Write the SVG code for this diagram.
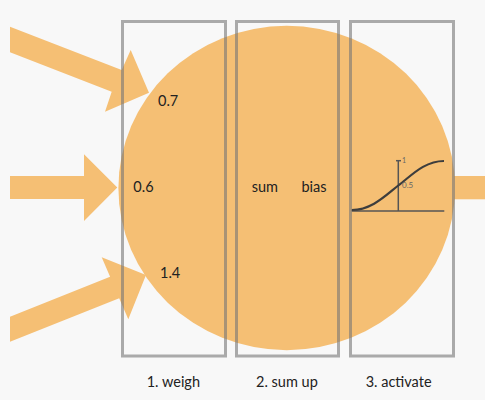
<svg xmlns="http://www.w3.org/2000/svg" width="485" height="400" viewBox="0 0 485 400">
<style>
.bg{fill:#f8f8f8}
.org{fill:#f5bf74}
.box{fill:none;stroke:#777;stroke-opacity:0.6;stroke-width:3}
.t{font-family:Lato,"Open Sans","Liberation Sans",sans-serif;font-size:14.5px;fill:#222}
.axis{stroke:#555;stroke-width:1.5;fill:none}
.curve{stroke:#3d3d3d;stroke-width:2.2;fill:none}
.small{font-family:Lato,"Open Sans","Liberation Sans",sans-serif;fill:#666}
</style>
<rect class="bg" x="0" y="0" width="485" height="400"/>
<g id="connectors">
<polygon class="org" points="10,26.7 121.7,70 130.7,50 149,92.7 105,111.7 111.7,91.7 10,52.3"/>
<polygon class="org" points="10,176 84,176 84,154.3 117.3,187.5 84,221 84,199 10,199"/>
<polygon class="org" points="10,316.7 110.1,276.8 101.7,257.3 146,275 128.3,319.3 119.2,298.2 10,341.7"/>
<rect class="org" x="440" y="176" width="50" height="23.3"/>
</g>
<g id="neuron">
<ellipse class="org" cx="286.7" cy="188" rx="168.3" ry="162.2"/>
</g>
<g id="weights">
<text class="t" x="158" y="106">0.7</text>
<text class="t" x="133.3" y="192">0.6</text>
<text class="t" x="160" y="277.5">1.4</text>
</g>
<g id="sum-bias">
<text class="t" x="251.7" y="192">sum</text>
<text class="t" x="301.5" y="192">bias</text>
</g>
<g id="sigmoid">
<line class="axis" x1="351.7" y1="211" x2="444.3" y2="211"/>
<line class="axis" x1="398.3" y1="160.7" x2="398.3" y2="211"/>
<line class="axis" x1="396" y1="160.7" x2="401" y2="160.7" stroke-width="1"/>
<path class="curve" d="M351.7,210 C372,210 386,195 398.3,185.5 C411,176 424,161 444,161"/>
<text class="small" x="402" y="163" font-size="7">1</text>
<text class="small" x="402" y="187.5" font-size="8">0.5</text>
</g>
<g id="step-weigh">
<rect class="box" x="122.5" y="21.5" width="103" height="334.5"/>
<text class="t" x="146.7" y="387">1. weigh</text>
</g>
<g id="step-sum">
<rect class="box" x="236.5" y="21.5" width="102" height="334.5"/>
<text class="t" x="256" y="387">2. sum up</text>
</g>
<g id="step-activate">
<rect class="box" x="350.5" y="21.5" width="103" height="334.5"/>
<text class="t" x="365.7" y="387">3. activate</text>
</g>
</svg>
